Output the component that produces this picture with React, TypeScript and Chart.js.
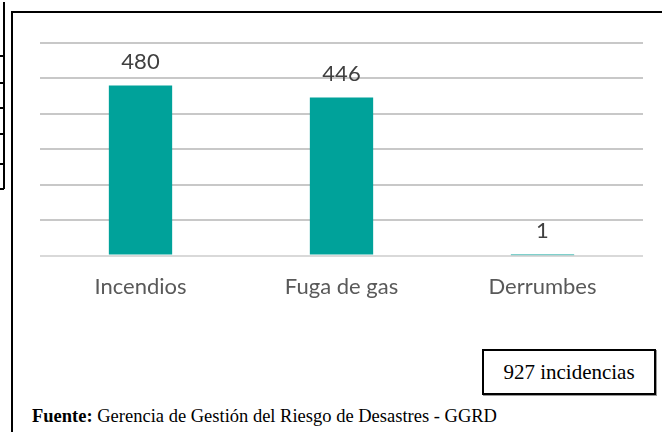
import React, { useEffect, useRef } from "react";
import { Chart, registerables } from "chart.js";

Chart.register(...registerables);

const categories = ["Incendios", "Fuga de gas", "Derrumbes"];
const values = [480, 446, 1];
const yMin = 0;
const yMax = 600;
const yStep = 100;
const totalLabel = "927 incidencias";
const sourceBold = "Fuente:";
const sourceText = " Gerencia de Gestión del Riesgo de Desastres - GGRD";

const FONT = "Lato, 'Open Sans', sans-serif";

const valueLabels = {
  id: "valueLabels",
  afterDatasetsDraw(chart: any) {
    const ctx = chart.ctx;
    const meta = chart.getDatasetMeta(0);
    ctx.save();
    ctx.font = `22px ${FONT}`;
    ctx.fillStyle = "#404040";
    ctx.textAlign = "center";
    ctx.textBaseline = "middle";
    meta.data.forEach((bar: any, i: number) => {
      ctx.fillText(String(values[i]), bar.x, bar.y - 24);
    });
    ctx.restore();
  },
};

export default function App() {
  const ref = useRef<HTMLCanvasElement | null>(null);
  useEffect(() => {
    if (!ref.current) return;
    const chart = new Chart(ref.current, {
      type: "bar",
      data: {
        labels: categories,
        datasets: [
          {
            data: values,
            backgroundColor: "#00A29A",
            categoryPercentage: 1,
            barPercentage: 0.315,
          },
        ],
      },
      options: {
        animation: false,
        responsive: false,
        devicePixelRatio: 1,
        layout: { padding: { left: 40, right: 19, top: 43, bottom: 10 } },
        plugins: {
          legend: { display: false },
          tooltip: { enabled: false },
        },
        scales: {
          x: {
            grid: { display: false, drawTicks: false },
            border: { display: false },
            ticks: {
              padding: 18,
              color: "#595959",
              font: { family: FONT, size: 22 },
            },
          },
          y: {
            min: yMin,
            max: yMax,
            grid: {
              color: (c: any) => (c.tick && c.tick.value === 0 ? "#d9d9d9" : "#c8c8c8"),
              lineWidth: 2,
              drawTicks: false,
            },
            border: { display: false },
            ticks: { display: false, stepSize: yStep },
          },
        },
      },
      plugins: [valueLabels],
    });
    return () => chart.destroy();
  }, []);

  return (
    <div
      style={{
        position: "absolute",
        left: 0,
        top: 0,
        width: 662,
        height: 432,
        overflow: "hidden",
        background: "#fff",
      }}
    >
      {/* left fragments of a neighbouring table */}
      <div style={{ position: "absolute", left: 3, top: 2, width: 1.5, height: 187, background: "#000" }} />
      {[55, 82, 107, 133, 163, 188].map((y) => (
        <div key={y} style={{ position: "absolute", left: 0, top: y, width: 4, height: 1.5, background: "#000" }} />
      ))}
      {/* outer frame */}
      <div
        style={{
          position: "absolute",
          left: 11,
          top: 11,
          width: 700,
          height: 500,
          border: "2px solid #000",
          boxSizing: "border-box",
        }}
      />
      <div style={{ position: "absolute", left: 0, top: 0, width: 662, height: 328 }}>
        <canvas ref={ref} width={662} height={328} style={{ width: 662, height: 328, display: "block" }} />
      </div>
      {/* total box */}
      <div
        style={{
          position: "absolute",
          left: 482,
          top: 349,
          width: 174,
          height: 46,
          border: "2px solid #000",
          boxSizing: "border-box",
          boxShadow: "1px 1px 0 #999",
          display: "flex",
          alignItems: "center",
          justifyContent: "center",
          fontFamily: "'Liberation Serif', 'Times New Roman', serif",
          fontSize: 21,
          color: "#000",
          background: "#fff",
        }}
      >
        {totalLabel}
      </div>
      <div
        style={{
          position: "absolute",
          left: 32,
          top: 406,
          fontFamily: "'Liberation Serif', 'Times New Roman', serif",
          fontSize: 18.5,
          color: "#000",
          whiteSpace: "nowrap",
        }}
      >
        <b>{sourceBold}</b>
        {sourceText}
      </div>
    </div>
  );
}
